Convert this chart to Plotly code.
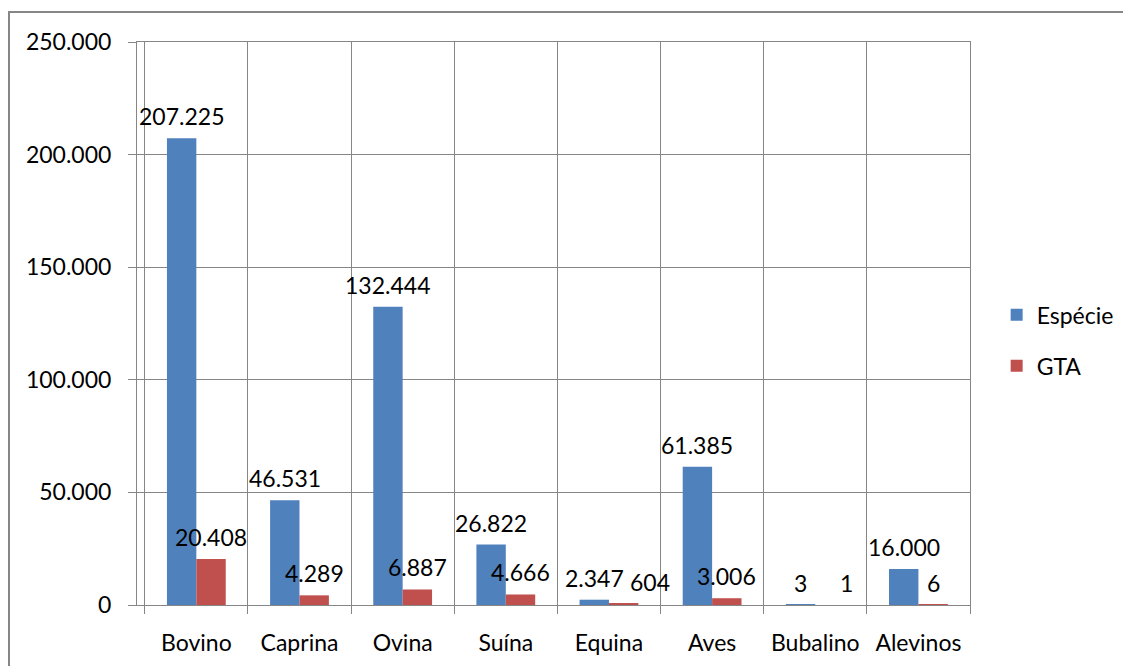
import plotly.graph_objects as go

categories = ["Bovino", "Caprina", "Ovina", "Suína", "Equina", "Aves", "Bubalino", "Alevinos"]
especie = [207225, 46531, 132444, 26822, 2347, 61385, 3, 16000]
gta = [20408, 4289, 6887, 4666, 604, 3006, 1, 6]
y_ticks = [0, 50000, 100000, 150000, 200000, 250000]

FONT = "Lato, 'Open Sans', sans-serif"
FS = 23
GRID = "#868686"
BLUE = "#4F81BD"
RED = "#C0504D"

# page has an 8px body margin; figure sized to fit the 1131x666 window
W, H = 1123, 658
ML, MR, MT, MB = 129, 161, 34, 61
plot_w = W - ML - MR
bar_w = plot_w / len(categories) * (1 - 0.43) / 2


def fmt(v):
    return f"{v:,}".replace(",", ".")


fig = go.Figure()
fig.add_trace(go.Bar(x=categories, y=especie, name="Espécie", legendgroup="a",
                     marker=dict(color=BLUE, line=dict(width=0))))
fig.add_trace(go.Bar(x=categories, y=gta, name="GTA", legendgroup="b",
                     marker=dict(color=RED, line=dict(width=0))))

# data labels centred above each bar (two small labels nudged right as in the original)
label_nudge_gta = {"Equina": 26, "Bubalino": 16}
for cat, v in zip(categories, especie):
    fig.add_annotation(x=cat, y=v, text=fmt(v), showarrow=False,
                       xshift=-bar_w / 2, yshift=6, yanchor="bottom",
                       font=dict(size=FS, family=FONT, color="black"))
for cat, v in zip(categories, gta):
    fig.add_annotation(x=cat, y=v, text=fmt(v), showarrow=False,
                       xshift=bar_w / 2 + label_nudge_gta.get(cat, 0), yshift=6,
                       yanchor="bottom",
                       font=dict(size=FS, family=FONT, color="black"))

fig.update_layout(
    width=W, height=H,
    margin=dict(l=ML, r=MR, t=MT, b=MB, autoexpand=False),
    paper_bgcolor="white", plot_bgcolor="white",
    separators=",.",
    barmode="group", bargap=0.43, bargroupgap=0,
    font=dict(family=FONT, size=FS, color="black"),
    legend=dict(x=1.032, y=0.47, xanchor="left", yanchor="middle",
                font=dict(size=FS, family=FONT), tracegroupgap=18,
                bgcolor="rgba(0,0,0,0)"),
    showlegend=True,
)

fig.update_xaxes(
    type="category", tickson="boundaries", ticks="outside", ticklen=8,
    tickcolor=GRID, showgrid=True, gridcolor=GRID, gridwidth=1,
    showline=True, linecolor=GRID, linewidth=1, mirror=True,
    ticklabelstandoff=17, tickfont=dict(size=FS, family=FONT),
)
fig.update_yaxes(
    range=[0, 250000], tickvals=y_ticks, tickformat=",d",
    ticks="outside", ticklen=8, tickcolor=GRID,
    showgrid=True, gridcolor=GRID, gridwidth=1,
    showline=True, linecolor=GRID, linewidth=1, mirror=True,
    zeroline=False, ticklabelstandoff=12, tickfont=dict(size=FS, family=FONT),
)

plot_h = H - MT - MB
fig.add_shape(type="rect", xref="paper", yref="paper",
              x0=(1 - ML) / plot_w, x1=1.25,
              y0=-0.2, y1=1 + (MT - 4) / plot_h,
              line=dict(color=GRID, width=2), fillcolor="rgba(0,0,0,0)",
              layer="below")

fig.write_html("out.html")
